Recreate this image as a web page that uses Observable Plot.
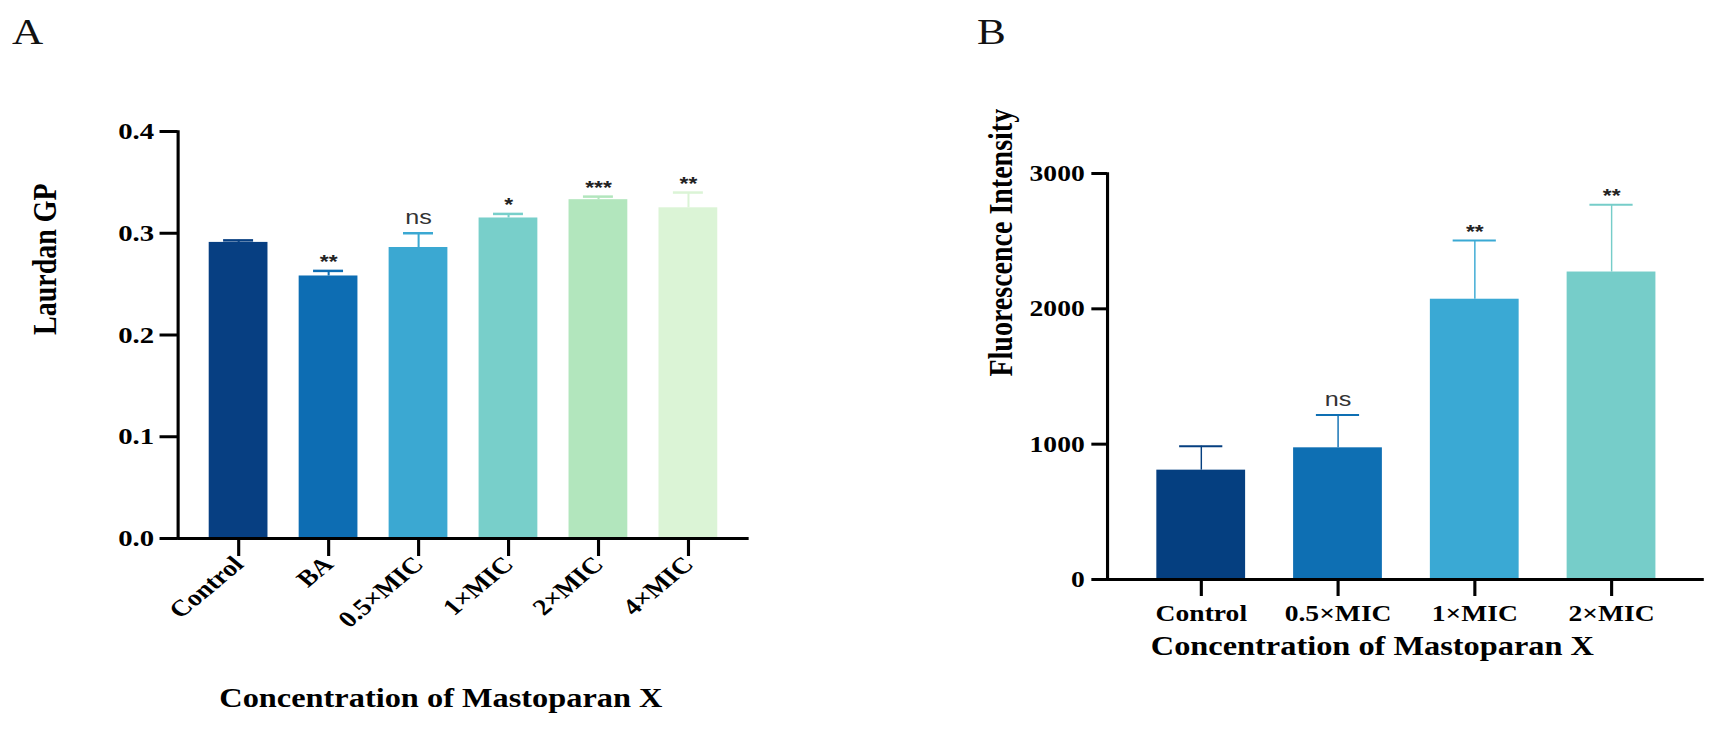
<!DOCTYPE html>
<html>
<head>
<meta charset="utf-8">
<script src="https://cdn.jsdelivr.net/npm/d3@7"></script>
<script src="https://cdn.jsdelivr.net/npm/@observablehq/plot@0.6"></script>
<style>
  html, body { margin: 0; padding: 0; background: #fff; }
  #wrap { position: relative; width: 1713px; height: 731px; overflow: hidden; background: #fff; }
  .panel { position: absolute; top: 0; }
  .panel svg { display: block; }
  .plabel { position: absolute; font-family: "Liberation Serif", "Times New Roman", serif; font-size: 36px; line-height: 1; color: #111; transform: scaleX(1.2); transform-origin: left top; }
</style>
</head>
<body>
<div id="wrap">
  <div id="pa" class="panel" style="left:0px"></div>
  <div id="pb" class="panel" style="left:860px"></div>
  <div class="plabel" style="left:12px; top:14px">A</div>
  <div class="plabel" style="left:977px; top:14px">B</div>
</div>
<script>
// ---- Panel A data ----
const groupsA = ["Control", "BA", "0.5×MIC", "1×MIC", "2×MIC", "4×MIC"];
const meanA   = [0.291, 0.258, 0.286, 0.315, 0.333, 0.325];
const upperA  = [0.293, 0.263, 0.300, 0.319, 0.336, 0.340];
const sigA    = ["", "**", "ns", "*", "***", "**"];
const paletteA = ["#073f82", "#0d6db3", "#3ba8d2", "#78cfca", "#b2e6bd", "#dbf4d6"];
const ticksA  = [0, 0.1, 0.2, 0.3, 0.4];

// ---- Panel B data ----
const groupsB = ["Control", "0.5×MIC", "1×MIC", "2×MIC"];
const meanB   = [808, 973, 2071, 2272];
const upperB  = [985, 1216, 2505, 2769];
const sigB    = ["", "ns", "**", "**"];
const paletteB = ["#053f80", "#0e6fb3", "#3aa9d4", "#76cdc9"];
const ticksB  = [0, 1000, 2000, 3000];

const serif = "'Liberation Serif', 'Times New Roman', serif";
const sans = "'Liberation Sans', Arial, sans-serif";
const SX = 1.2; // the reference figure is horizontally stretched

const dataA = groupsA.map((g, i) => ({group: g, mean: meanA[i], upper: upperA[i], sig: sigA[i]}));
const dataB = groupsB.map((g, i) => ({group: g, mean: meanB[i], upper: upperB[i], sig: sigB[i]}));

function sigMarks(data, starSize, nsSize) {
  return [
    Plot.text(data.filter(d => d.sig.includes("*")), {
      x: "group", y: "upper", text: "sig", dy: -9,
      fontFamily: sans, fontWeight: "bold", fontSize: starSize, fill: "#222"
    }),
    Plot.text(data.filter(d => d.sig === "ns"), {
      x: "group", y: "upper", text: "sig", dy: -16,
      fontFamily: sans, fontWeight: "normal", fontSize: nsSize, fill: "#333"
    })
  ];
}

function stretch(svg, displayWidth, height) {
  svg.setAttribute("width", displayWidth);
  svg.setAttribute("height", height);
  svg.setAttribute("preserveAspectRatio", "none");
  svg.style.width = displayWidth + "px";
  svg.style.height = height + "px";
  svg.style.maxWidth = "none";
  return svg;
}

const wA = Math.round(860 / SX);
const chartA = Plot.plot({
  width: wA, height: 731,
  marginLeft: 148, marginRight: wA - 749 / SX, marginTop: 131, marginBottom: 193,
  style: {fontFamily: serif, fontWeight: "bold", color: "#000", background: "transparent"},
  x: {domain: groupsA, paddingInner: 0.35, paddingOuter: 0.34, label: null},
  y: {domain: [0, 0.4], label: null},
  color: {domain: groupsA, range: paletteA},
  marks: [
    Plot.barY(dataA, {x: "group", y: "mean", fill: "group"}),
    Plot.ruleX(dataA, {x: "group", y1: "mean", y2: "upper", stroke: "group", strokeWidth: 1.7}),
    Plot.tickY(dataA, {x: "group", y: "upper", stroke: "group", strokeWidth: 2.5, insetLeft: 12, insetRight: 12}),
    ...sigMarks(dataA, 19, 21),
    Plot.frame({anchor: "left", strokeWidth: 2.6, stroke: "#000"}),
    Plot.ruleY([0], {strokeWidth: 3, stroke: "#000"}),
    Plot.axisY({ticks: ticksA, tickFormat: d3.format(".1f"), tickSize: 15, tickPadding: 5, strokeWidth: 3,
      fontSize: 24, fontWeight: "bold", fontFamily: serif, label: null}),
    Plot.axisX({tickRotate: -45, tickSize: 18, tickPadding: 4, strokeWidth: 2.6,
      fontSize: 23, fontWeight: "bold", fontFamily: serif, label: null}),
    Plot.text(["Laurdan GP"], {frameAnchor: "left", rotate: -90, dx: -111,
      fontSize: 28, fontWeight: "bold", fontFamily: serif, fill: "#000"}),
    Plot.text(["Concentration of Mastoparan X"], {frameAnchor: "bottom", dy: 168, dx: -19,
      fontSize: 27, fontWeight: "bold", fontFamily: serif, fill: "#000"})
  ]
});
document.getElementById("pa").append(stretch(chartA, 860, 731));

const wB = Math.round(853 / SX);
const chartB = Plot.plot({
  width: wB, height: 731,
  marginLeft: 247 / SX, marginRight: wB - (1704 - 860) / SX, marginTop: 173, marginBottom: 152,
  style: {fontFamily: serif, fontWeight: "bold", color: "#000", background: "transparent"},
  x: {domain: groupsB, paddingInner: 0.35, paddingOuter: 0.34, label: null},
  y: {domain: [0, 3000], label: null},
  color: {domain: groupsB, range: paletteB},
  marks: [
    Plot.barY(dataB, {x: "group", y: "mean", fill: "group"}),
    Plot.ruleX(dataB, {x: "group", y1: "mean", y2: "upper", stroke: "group", strokeWidth: 1.2}),
    Plot.tickY(dataB, {x: "group", y: "upper", stroke: "group", strokeWidth: 2, insetLeft: 19, insetRight: 19}),
    ...sigMarks(dataB, 19, 21),
    Plot.frame({anchor: "left", strokeWidth: 2.6, stroke: "#000"}),
    Plot.ruleY([0], {strokeWidth: 3, stroke: "#000"}),
    Plot.axisY({ticks: ticksB, tickFormat: d3.format("d"), tickSize: 13, tickPadding: 6, strokeWidth: 3,
      fontSize: 23, fontWeight: "bold", fontFamily: serif, label: null}),
    Plot.axisX({tickSize: 17, tickPadding: 8, strokeWidth: 2.6,
      fontSize: 23, fontWeight: "bold", fontFamily: serif, label: null}),
    Plot.text(["Fluorescence Intensity"], {frameAnchor: "left", rotate: -90, dx: -89,
      fontSize: 28, fontWeight: "bold", fontFamily: serif, fill: "#000"}),
    Plot.text(["Concentration of Mastoparan X"], {frameAnchor: "bottom", dy: 75, dx: -28,
      fontSize: 27, fontWeight: "bold", fontFamily: serif, fill: "#000"})
  ]
});
document.getElementById("pb").append(stretch(chartB, 853, 731));
</script>
</body>
</html>
